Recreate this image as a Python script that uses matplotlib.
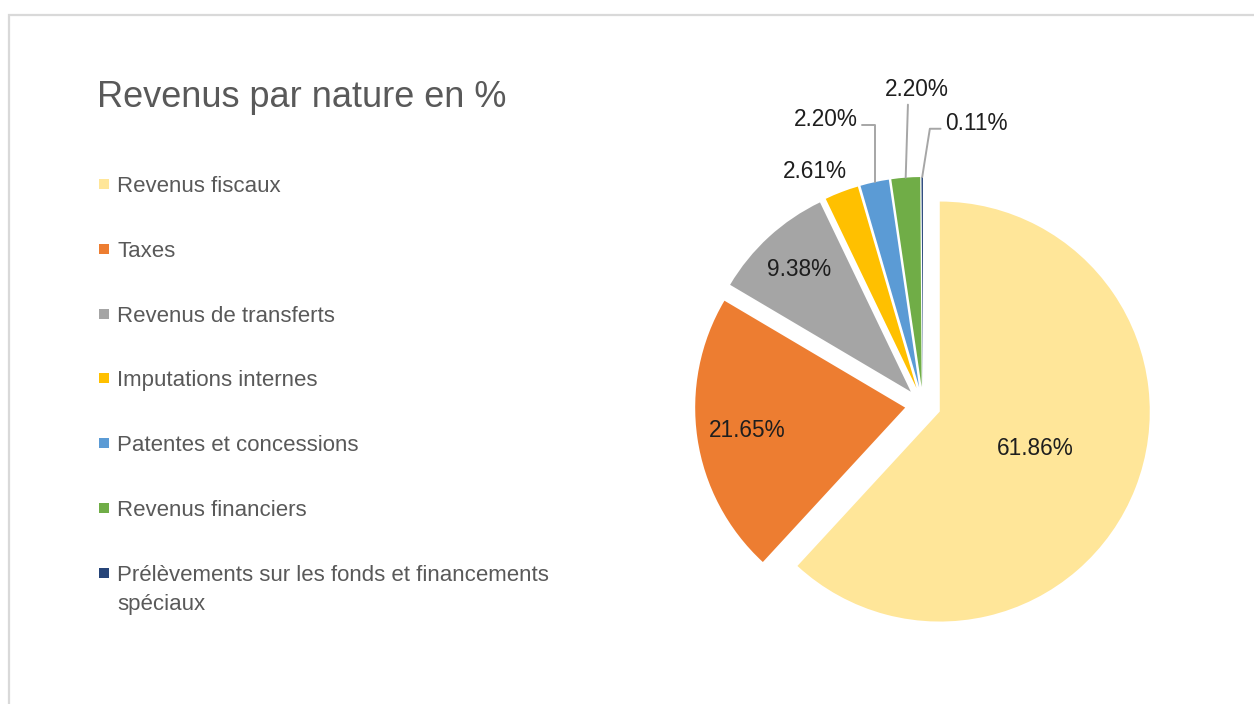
import numpy as np
import matplotlib
matplotlib.use("Agg")
import matplotlib.pyplot as plt
from matplotlib.patches import Rectangle

# data
categories = ["Revenus fiscaux", "Taxes", "Revenus de transferts",
              "Imputations internes", "Patentes et concessions",
              "Revenus financiers",
              "Prélèvements sur les fonds et financements\nspéciaux"]
shares = [61.86, 21.65, 9.38, 2.61, 2.20, 2.20, 0.11]
colors = ["#FFE699", "#ED7D31", "#A5A5A5", "#FFC000", "#5B9BD5", "#70AD47", "#264478"]
title = "Revenus par nature en %"

plt.rcParams['font.family'] = ['Liberation Sans', 'DejaVu Sans']

W, H = 1254, 704
fig = plt.figure(figsize=(W / 100, H / 100), dpi=100)
ax = fig.add_axes([0, 0, 1, 1])

# pie, drawn in pixel units (y measured from bottom)
cx, cy, R = 923, H - 405, 210
wedges, _ = ax.pie(shares, colors=colors, startangle=90, counterclock=False,
                   explode=[18] * len(shares), radius=R, center=(cx, cy),
                   wedgeprops=dict(linewidth=0))
ax.set_xlim(0, W)
ax.set_ylim(0, H)
ax.set_aspect('equal')
ax.axis('off')

# frame of the chart area
ax.add_patch(Rectangle((9, -20), W + 20, H - 15 + 20, fill=False,
                       edgecolor='#d9d9d9', linewidth=1.6))

ax.text(97, H - 107, title, fontsize=26, color='#595959', va='baseline', ha='left')

# legend (lines of a label drawn one by one so the marker sits on the first)
leg_y0, leg_step, line_h = 184, 64.8, 29
for i, (lab, c) in enumerate(zip(categories, colors)):
    y = H - (leg_y0 + i * leg_step)
    ax.scatter(104, y, marker='s', s=42, color=c, linewidths=0)
    for j, part in enumerate(lab.split("\n")):
        ax.text(117, y - 8 - j * line_h, part, fontsize=16, color='#595959',
                va='baseline', ha='left')


def mid_dir(w):
    t = np.deg2rad((w.theta1 + w.theta2) / 2)
    return np.cos(t), np.sin(t)


lab_kw = dict(fontsize=16.3, color='#1e1e1e', ha='center', va='center')
# labels inside the three big slices (fraction of radius from slice apex)
inner_frac = [0.49, 0.76, 0.79]
for w, f, v in zip(wedges[:3], inner_frac, shares[:3]):
    dx, dy = mid_dir(w)
    ax.text(w.center[0] + f * w.r * dx, w.center[1] + f * w.r * dy, f"{v:.2f}%", **lab_kw)

# labels outside the small slices
line_kw = dict(arrowstyle='-', color='#a6a6a6', lw=1.4, shrinkA=1, shrinkB=0)
outer_pos = [(815, 172), (826, 119), (917, 89), (976, 123)]
outer_conn = [None,
              ("angle,angleA=0,angleB=90,rad=0", (1.0, 0.25)),
              ("arc3", (0.36, 0.0)),
              ("angle,angleA=0,angleB=81,rad=0", (0.0, 0.25))]
for w, v, (px, py), conn in zip(wedges[3:], shares[3:], outer_pos, outer_conn):
    dx, dy = mid_dir(w)
    anchor = (w.center[0] + w.r * dx, w.center[1] + w.r * dy)
    if conn is None:
        ax.text(px, H - py, f"{v:.2f}%", **lab_kw)
    else:
        ax.annotate(f"{v:.2f}%", xy=anchor, xytext=(px, H - py),
                    arrowprops=dict(connectionstyle=conn[0], relpos=conn[1], **line_kw),
                    **lab_kw)

fig.savefig("out.png", dpi=100, facecolor='white')
